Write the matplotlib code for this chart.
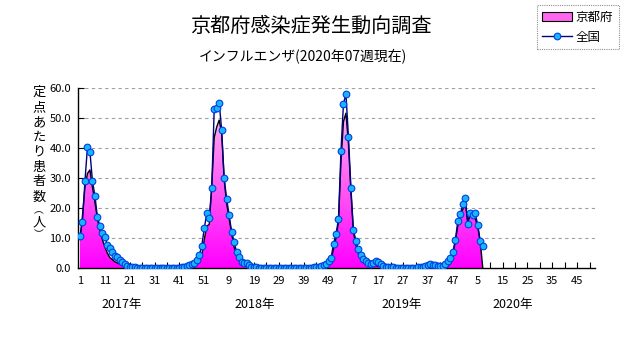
import numpy as np
import matplotlib
matplotlib.use("Agg")
import matplotlib.pyplot as plt
from matplotlib.patches import Patch
from matplotlib.lines import Line2D
from matplotlib.colors import LinearSegmentedColormap

plt.rcParams['font.family'] = ['Noto Sans CJK JP', 'DejaVu Sans']

# ============== data (weekly, 2017 wk1 .. 2020 wk7) ==============
years = ['2017年', '2018年', '2019年', '2020年']

zenkoku_2017 = [10.8, 15.4, 29.1, 40.2, 38.8, 29.1, 24.1, 17.1, 14.0, 11.6,
                10.2, 7.7, 6.6, 5.2, 4.0, 3.6, 2.7, 1.9, 1.3, 0.7,
                0.4, 0.3, 0.2, 0.15, 0.1, 0.1, 0.1, 0.1, 0.1, 0.05,
                0.05, 0.05, 0.05, 0.05, 0.05, 0.1, 0.1, 0.1, 0.1, 0.1,
                0.15, 0.2, 0.4, 0.6, 0.9, 1.3, 1.8, 2.6, 4.3, 7.4,
                13.2, 18.2]
zenkoku_2018 = [16.6, 26.8, 52.9, 53.2, 55.1, 46.0, 30.1, 23.0, 17.7, 12.1,
                8.7, 5.3, 3.8, 2.1, 1.8, 1.6, 1.0, 0.5, 0.3, 0.2,
                0.1, 0.1, 0.1, 0.05, 0.05, 0.05, 0.05, 0.05, 0.05, 0.05,
                0.05, 0.05, 0.05, 0.05, 0.05, 0.05, 0.05, 0.1, 0.1, 0.1,
                0.1, 0.15, 0.2, 0.3, 0.4, 0.7, 0.9, 1.4, 2.2, 3.3,
                8.0, 11.3]
zenkoku_2019 = [16.3, 39.1, 54.7, 58.0, 43.8, 26.8, 12.7, 9.1, 6.2, 4.2,
                3.0, 2.3, 1.6, 1.3, 1.8, 2.3, 2.0, 1.2, 0.7, 0.4,
                0.3, 0.2, 0.2, 0.15, 0.1, 0.1, 0.1, 0.1, 0.1, 0.1,
                0.15, 0.15, 0.2, 0.2, 0.3, 0.7, 1.0, 1.2, 1.0, 1.0,
                0.7, 0.7, 0.8, 1.3, 2.3, 3.3, 5.4, 9.2, 15.6, 17.9,
                21.2, 23.5]
zenkoku_2020 = [14.8, 18.3, 17.6, 18.2, 14.5, 9.0, 7.4]

kyoto_2017 = [9.5, 17.5, 27.0, 31.5, 32.7, 27.0, 22.0, 16.5, 12.5, 9.5,
              7.0, 5.0, 3.5, 2.8, 2.1, 1.7, 1.3, 0.9, 0.6, 0.3,
              0.2, 0.1, 0.05, 0.05, 0.05, 0.05, 0.05, 0.05, 0.05, 0.05,
              0.05, 0.05, 0.05, 0.05, 0.05, 0.05, 0.05, 0.05, 0.05, 0.05,
              0.1, 0.1, 0.2, 0.3, 0.4, 0.6, 1.0, 1.6, 2.5, 4.0,
              9.5, 14.0]
kyoto_2018 = [14.5, 27.0, 43.5, 47.0, 49.3, 45.0, 29.5, 21.5, 16.5, 11.5,
              7.0, 4.3, 2.7, 1.6, 1.2, 0.8, 0.5, 0.3, 0.2, 0.1,
              0.05, 0.05, 0.05, 0.05, 0.05, 0.05, 0.05, 0.05, 0.05, 0.05,
              0.05, 0.05, 0.05, 0.05, 0.05, 0.05, 0.05, 0.05, 0.05, 0.05,
              0.05, 0.05, 0.1, 0.1, 0.2, 0.3, 0.5, 0.9, 1.5, 2.5,
              6.5, 10.0]
kyoto_2019 = [15.5, 35.5, 48.8, 51.6, 41.5, 25.4, 12.1, 7.7, 4.9, 3.2,
              2.3, 1.8, 1.3, 1.0, 0.9, 0.8, 0.6, 0.4, 0.3, 0.2,
              0.1, 0.05, 0.05, 0.05, 0.05, 0.05, 0.05, 0.05, 0.05, 0.05,
              0.05, 0.05, 0.05, 0.05, 0.05, 0.1, 0.2, 0.2, 0.2, 0.2,
              0.2, 0.2, 0.3, 0.4, 0.6, 1.5, 4.0, 9.0, 14.0, 17.5,
              19.5, 21.8]
kyoto_2020 = [15.5, 18.0, 17.5, 16.5, 13.8, 9.0, 0.5]

tick_labels = [1, 11, 21, 31, 41, 51, 9, 19, 29, 39, 49,
               7, 17, 27, 37, 47, 5, 15, 25, 35, 45]
# =================================================================

zenkoku = np.array(zenkoku_2017 + zenkoku_2018 + zenkoku_2019 + zenkoku_2020)
kyoto = np.array(kyoto_2017 + kyoto_2018 + kyoto_2019 + kyoto_2020)
x = np.arange(1, len(zenkoku) + 1)

W, H = 631, 347
fig = plt.figure(figsize=(W / 100, H / 100), dpi=100)
ax = fig.add_axes([78 / W, 1 - 268 / H, (595 - 78) / W, (268 - 88) / H])

ax.set_xlim(0.2, 208.2)
ax.set_ylim(0, 60)

# gradient area for Kyoto
poly = ax.fill_between(x, kyoto, 0, facecolor='none', edgecolor='none')
cmap = LinearSegmentedColormap.from_list('pink', ['#ff00ff', '#ff55f4', '#ffa8f2'])
grad = np.linspace(0, 1, 256).reshape(-1, 1)
im = ax.imshow(grad, extent=[x[0], x[-1], 0, 50], origin='lower',
               aspect='auto', cmap=cmap, zorder=2)
im.set_clip_path(poly.get_paths()[0], ax.transData)
ax.plot(np.append(x, x[-1]), np.append(kyoto, 0), color='black', lw=1, zorder=3)

ax.plot(x, zenkoku, color='#000080', lw=1, marker='o', ms=4.8,
        mfc='#19b4ff', mec='#0040e0', mew=0.8, zorder=4)

# grid
for yv in range(10, 61, 10):
    ax.axhline(yv, color='#a0a0a0', lw=0.8, ls=(0, (3, 3)), zorder=1)

for s in ['top', 'right']:
    ax.spines[s].set_visible(False)
ax.spines['left'].set_linewidth(1)
ax.spines['bottom'].set_linewidth(1)

ax.set_yticks(range(0, 61, 10))
ax.set_yticklabels([f'{v:.1f}' for v in range(0, 61, 10)])
ax.set_xticks(np.arange(1, 209, 10))
ax.set_xticklabels([str(t) for t in tick_labels])
ax.set_xticks(np.arange(6, 209, 10), minor=True)
ax.tick_params(axis='both', direction='in', length=4, width=0.8, labelsize=8)
ax.tick_params(axis='x', which='minor', direction='in', length=4, width=0.8)
ax.tick_params(axis='x', pad=6)
ax.tick_params(axis='y', pad=5)

year_pos = [17.8, 71.2, 130.6, 175.0]
for yr, xp in zip(years, year_pos):
    ax.text(xp, -0.205, yr, transform=ax.get_xaxis_transform(),
            ha='center', va='center', fontsize=9)

# titles
fig.text(311 / W, 1 - 26 / H, '京都府感染症発生動向調査', ha='center', va='center', fontsize=14.5)
fig.text(303 / W, 1 - 56 / H, 'インフルエンザ(2020年07週現在)', ha='center', va='center', fontsize=10)

# vertical y label (parentheses in vertical form, drawn smaller)
ylab = ['定', '点', 'あ', 'た', 'り', '患', '者', '数', '︵', '人', '︶']
ypx = [92.5, 107.5, 122.5, 137.5, 152, 167, 182, 197, 210.5, 222.5, 234.5]
for ch, yp in zip(ylab, ypx):
    fs = 7 if ch in '︵︶' else 9.5
    fig.text(39 / W, 1 - yp / H, ch, ha='center', va='center', fontsize=fs)

# legend
handles = [Patch(facecolor='#ff66f0', edgecolor='black', lw=0.8),
           Line2D([], [], color='#000080', lw=1, marker='o', ms=4.8,
                  mfc='#19b4ff', mec='#0040e0', mew=0.8)]
leg = fig.legend(handles, ['京都府', '全国'], loc='upper right',
                 bbox_to_anchor=(619 / W, 1 - 5 / H), fontsize=9,
                 fancybox=False, framealpha=1, borderpad=0.45,
                 handlelength=2.4, handletextpad=0.3, labelspacing=0.55,
                 borderaxespad=0)
leg.get_frame().set_edgecolor('#909090')
leg.get_frame().set_linestyle((0, (1, 1)))
leg.get_frame().set_linewidth(0.8)

fig.savefig('out.png', dpi=100)
